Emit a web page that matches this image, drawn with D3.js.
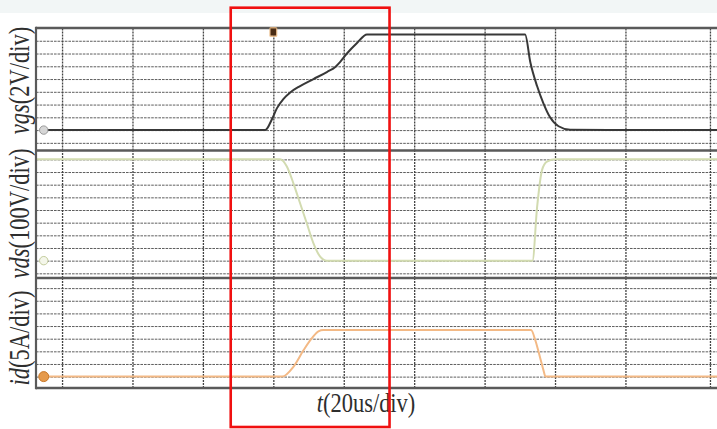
<!DOCTYPE html>
<html>
<head>
<meta charset="utf-8">
<script src="https://cdn.jsdelivr.net/npm/d3@7"></script>
<style>
  html, body { margin: 0; padding: 0; background: #fff; }
  svg { display: block; }
  .lbl { font-family: "Liberation Serif", "Times New Roman", serif; fill: #2e2e2e; }
</style>
</head>
<body>
<svg id="scope" width="717" height="429"></svg>
<script>
// scope capture: vgs / vds / id at turn-on and turn-off

const WIDTH = 717;
const HEIGHT = 429;

// time axis (us), 20us per division
const gridTimes = [0, 20, 40, 60, 80, 100, 120, 140, 160];
const edgeTime = 184;
const triggerTime = 60;
const markerTime = -5.2;

// divisions of each channel
const vgsTicks = [-2, 0, 2, 4, 6, 8, 10, 12, 14];
const vdsTicks = [-100, 0, 100, 200, 300, 400, 500, 600, 700, 800];
const idTicks = [0, 5, 10, 15, 20, 25, 30, 35];

// traces: [t (us), value]
const vgsData = [
  [-5, 0], [40, 0], [57.7, 0], [59.6, 1.7], [61.0, 3.4], [62.9, 4.9], [64.8, 5.9],
  [67.6, 6.9], [71.4, 8.0], [75.2, 9.1], [77.6, 9.9], [79.0, 10.7], [80.9, 12.0],
  [83.7, 13.6], [86.6, 15.0], [110, 15.0], [131.5, 15.0], [133.0, 10.6], [134.9, 6.9],
  [136.7, 4.2], [138.6, 2.0], [141.0, 0.6], [144.3, 0.05], [160, 0], [186, 0]
];
const vdsData = [
  [-7.4, 800], [30, 800], [61.9, 800], [63.8, 745], [65.7, 611], [67.6, 453],
  [69.5, 295], [71.4, 137], [73.3, 32], [75.2, 0], [100, 0], [133.6, 0],
  [134.9, 420], [136.3, 715], [137.7, 782], [140.1, 800], [160, 800], [186, 800]
];
const idData = [
  [-5.5, 0], [30, 0], [62.5, 0], [65.7, 3.9], [68.6, 10.5], [70.9, 15.1],
  [72.8, 17.9], [74.2, 18.4], [100, 18.4], [133.2, 18.4], [134.4, 14.4],
  [135.8, 7.3], [136.7, 2.6], [137.3, 0], [160, 0], [186, 0]
];

// highlighted turn-on window (us)
const boxTimes = [47.9, 93.0];

const channelLabels = [
  { name: "vgs", unit: "(2V/div)" },
  { name: "vds", unit: "(100V/div)" },
  { name: "id", unit: "(5A/div)" }
];
const timeLabel = { name: "t", unit: "(20us/div)" };

const svg = d3.select("#scope");

// page strip at the top
svg.append("rect").attr("x", 0).attr("y", 0).attr("width", WIDTH).attr("height", 13).attr("fill", "#f2f6f6");

const x = d3.scaleLinear().domain([-7.4, 186]).range([36, 717]);

const panels = [
  { top: 28, bottom: 150.5, domain: [-3.2, 16], ticks: vgsTicks, data: vgsData,
    color: "#383838", width: 2, labelY: 80.5, marker: { fill: "#d6d6d6", stroke: "#9a9a9a" } },
  { top: 150.5, bottom: 278, domain: [-137, 870], ticks: vdsTicks, data: vdsData,
    color: "#d2dbb0", width: 2, labelY: 213.5, marker: { fill: "#f4f6ea", stroke: "#c3cc9c" } },
  { top: 278, bottom: 388, domain: [-4.5, 39], ticks: idTicks, data: idData,
    color: "#f3b985", width: 2, labelY: 338, marker: { fill: "#e59a4c", stroke: "#c97a2c" } }
];

const grid = svg.append("g");
const traces = svg.append("g");

panels.forEach((p, i) => {
  const y = d3.scaleLinear().domain(p.domain).range([p.bottom, p.top]);
  p.y = y;

  // horizontal divisions
  const hAxis = grid.append("g")
    .attr("transform", `translate(${x.range()[0]},0)`)
    .call(d3.axisLeft(y).tickValues(p.ticks).tickSize(-(x.range()[1] - x.range()[0])).tickFormat(""));
  hAxis.select(".domain").remove();
  hAxis.selectAll("line")
    .attr("stroke", "#5e5e5e")
    .attr("stroke-width", 1)
    .attr("stroke-dasharray", "2.6,1");

  // vertical divisions
  const vAxis = grid.append("g")
    .attr("transform", `translate(0,${p.bottom})`)
    .call(d3.axisBottom(x).tickValues(gridTimes.concat([edgeTime])).tickSize(-(p.bottom - p.top)).tickFormat(""));
  vAxis.select(".domain").remove();
  vAxis.selectAll("line")
    .attr("stroke", "#444")
    .attr("stroke-width", 1.3)
    .attr("stroke-dasharray", "2,1");

  // trace
  const line = d3.line()
    .x(d => x(d[0]))
    .y(d => y(d[1]))
    .curve(d3.curveMonotoneX);
  traces.append("path")
    .datum(p.data)
    .attr("d", line)
    .attr("fill", "none")
    .attr("stroke", p.color)
    .attr("stroke-width", p.width)
    .attr("stroke-linejoin", "round");

  // channel ground marker
  traces.append("circle")
    .attr("cx", x(markerTime))
    .attr("cy", y(0))
    .attr("r", i === 2 ? 5 : 4.2)
    .attr("fill", p.marker.fill)
    .attr("stroke", p.marker.stroke)
    .attr("stroke-width", 1);

  // rotated channel label
  const lab = svg.append("text")
    .attr("class", "lbl")
    .attr("text-anchor", "middle")
    .attr("font-size", 22.5)
    .attr("transform", `translate(29,${p.labelY}) rotate(-90) scale(1,1.3)`);
  lab.append("tspan").attr("font-style", "italic").text(channelLabels[i].name);
  lab.append("tspan").text(channelLabels[i].unit);
});

// panel borders
const borders = svg.append("g").attr("stroke", "#5a5a5a").attr("stroke-width", 2.6);
const edgesY = [panels[0].top, panels[1].top, panels[2].top, panels[2].bottom];
borders.selectAll("line.h")
  .data(edgesY)
  .enter()
  .append("line")
  .attr("x1", x.range()[0])
  .attr("x2", x.range()[1])
  .attr("y1", d => d)
  .attr("y2", d => d);
borders.append("line")
  .attr("x1", x.range()[0]).attr("x2", x.range()[0])
  .attr("y1", panels[0].top - 1.3).attr("y2", panels[2].bottom + 1.3)
  .attr("stroke-width", 2.2);

// trigger marker
const tx = x(triggerTime);
svg.append("rect").attr("x", tx - 4).attr("y", 27).attr("width", 8).attr("height", 10)
  .attr("rx", 1.5).attr("fill", "#e8b47a").attr("opacity", 0.8);
svg.append("rect").attr("x", tx - 2.8).attr("y", 28.5).attr("width", 5.6).attr("height", 7)
  .attr("fill", "#4a2c14");

// time label
const tl = svg.append("text")
  .attr("class", "lbl")
  .attr("text-anchor", "middle")
  .attr("font-size", 22.5)
  .attr("transform", `translate(366,412) scale(1,1.2)`);
tl.append("tspan").attr("font-style", "italic").text(timeLabel.name);
tl.append("tspan").text(timeLabel.unit);

// red highlight box
svg.append("rect")
  .attr("x", x(boxTimes[0]))
  .attr("y", 7.7)
  .attr("width", x(boxTimes[1]) - x(boxTimes[0]))
  .attr("height", 427 - 7.7)
  .attr("fill", "none")
  .attr("stroke", "#f01010")
  .attr("stroke-width", 2.6);
</script>
</body>
</html>
